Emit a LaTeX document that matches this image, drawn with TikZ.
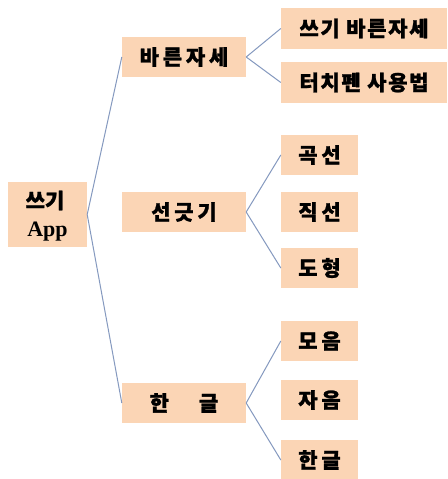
\documentclass[tikz,border=0pt]{standalone}
\usepackage{fontspec}
\newfontfamily\kr[LetterSpace=18,BoldFeatures={FakeBold=1.2}]{Noto Sans CJK KR}
\newfontfamily\krl[LetterSpace=8,BoldFeatures={FakeBold=1.2}]{Noto Sans CJK KR}
\newfontfamily\krr[BoldFeatures={FakeBold=1.2}]{Noto Sans CJK KR}
\newfontfamily\appfont{Liberation Serif}
\definecolor{boxfill}{HTML}{FBD5B5}
\definecolor{linkcol}{HTML}{8599BF}
\tikzset{
  box/.style={fill=boxfill, draw=none, inner sep=0pt, align=center, font=\kr\bfseries\fontsize{21}{24}\selectfont},
  rootbox/.style={box, minimum width=79pt, minimum height=65pt},
  roottext/.style={inner sep=0pt, font=\krr\bfseries\fontsize{21}{24}\selectfont},
  apptext/.style={inner sep=0pt, font=\appfont\bfseries\fontsize{22}{24}\selectfont},
  lvlone/.style={box, minimum width=124pt, minimum height=40pt},
  lvltwolong/.style={box, minimum width=166pt, minimum height=41pt, font=\krl\bfseries\fontsize{21}{24}\selectfont},
  lvltwo/.style={box, minimum width=77pt, minimum height=40pt},
  link/.style={draw=linkcol, line width=1pt}
}
\begin{document}
\begin{tikzpicture}[x=1pt,y=-1pt]
\useasboundingbox (0,0) rectangle (447,479);
\fill[white] (0,0) rectangle (447,479);
\node[rootbox] (root) at (47.5,214.5) {};
\node[roottext] (rootkr) at (45,200.5) {쓰기};
\node[apptext, anchor=base] (rootapp) at (47.5,236) {App};
\node[lvlone] (a) at (184,57) {바른자세};
\node[lvlone] (b) at (184,212) {선긋기};
\node[lvlone] (c) at (184,403) {한\hspace{30pt}글};
\node[lvltwolong] (a1) at (364,28.5) {쓰기 바른자세};
\node[lvltwolong] (a2) at (364,82.5) {터치펜 사용법};
\node[lvltwo] (b1) at (319.5,155) {곡선};
\node[lvltwo] (b2) at (319.5,212) {직선};
\node[lvltwo] (b3) at (319.5,268) {도형};
\node[lvltwo] (c1) at (319.5,341) {모음};
\node[lvltwo] (c2) at (319.5,400) {자음};
\node[lvltwo] (c3) at (319.5,460) {한글};
\draw[link] (root.east) -- (a.west);
\draw[link] (root.east) -- (c.west);
\draw[link] (a.east) -- (a1.west);
\draw[link] (a.east) -- (a2.west);
\draw[link] (b.east) -- (b1.west);
\draw[link] (b.east) -- (b3.west);
\draw[link] (c.east) -- (c1.west);
\draw[link] (c.east) -- (c3.west);
\end{tikzpicture}
\end{document}
